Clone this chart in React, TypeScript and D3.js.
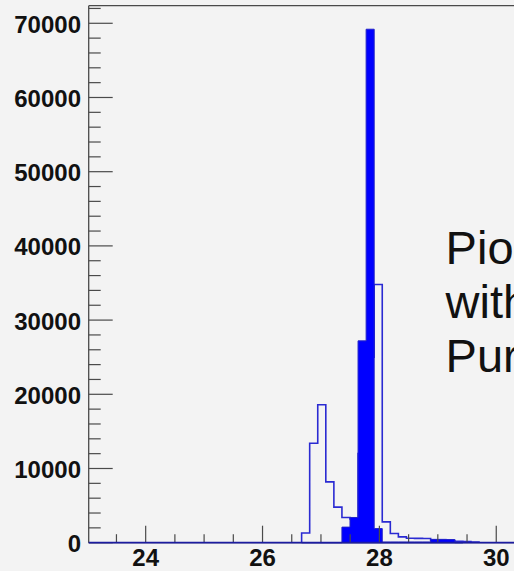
import React from "react";
import * as d3 from "d3";

// Histogram binning
const binLow = 26.669;
const binWidth = 0.138;

// Wide (outline) distribution, counts per bin starting at binLow
const outlineCounts = [
  1300, 13400, 18600, 8200, 4800, 3400, 3200, 12000, 25000, 34800,
  2800, 1250, 780, 600, 580, 560, 350, 330, 300, 200, 150, 100,
];

// Narrow (filled) distribution, counts per bin starting at binLow
const filledCounts = [
  0, 0, 0, 0, 0, 2100, 3400, 27200, 69200, 1900,
  80, 80, 80, 80, 80, 80, 450, 450, 420, 0,
];

// Axis ranges and tick values
const xRange = [23.025, 33];
const yMax = 72370;
const xMajorTicks = [24, 26, 28, 30, 32];
const xMinorTicks = [23.5, 24.5, 25, 25.5, 26.5, 27, 27.5, 28.5, 29, 29.5, 30.5, 31, 31.5, 32.5];
const yMajorTicks = [0, 10000, 20000, 30000, 40000, 50000, 60000, 70000];
const yMinorTicks = [
  2000, 4000, 6000, 8000, 12000, 14000, 16000, 18000, 22000, 24000, 26000, 28000,
  32000, 34000, 36000, 38000, 42000, 44000, 46000, 48000, 52000, 54000, 56000, 58000,
  62000, 64000, 66000, 68000, 72000,
];
const legendLines = ["Pions", "with", "Purity"];

const W = 514;
const H = 571;
const left = 88.7;
const top = 5.7;
const bottom = 542.7;
const pxPerUnit = 58.43;

export default function App() {
  const x = d3
    .scaleLinear()
    .domain(xRange)
    .range([left, left + (xRange[1] - xRange[0]) * pxPerUnit]);
  const y = d3.scaleLinear().domain([0, yMax]).range([bottom, top]);

  const stepPoints = (counts: number[]) => {
    const pts: [number, number][] = [[binLow, 0]];
    counts.forEach((c, i) => {
      pts.push([binLow + i * binWidth, c]);
      pts.push([binLow + (i + 1) * binWidth, c]);
    });
    pts.push([binLow + counts.length * binWidth, 0]);
    return pts;
  };
  const line = d3
    .line<[number, number]>()
    .x((d) => x(d[0]))
    .y((d) => y(d[1]));

  const axisColor = "#4a4a4a";
  const font = "'Liberation Sans', Arial, Helvetica, sans-serif";

  return (
    <svg
      width={W}
      height={H}
      style={{ position: "absolute", left: 0, top: 0, display: "block" }}
    >
      <rect x={0} y={0} width={W} height={H} fill="#f3f3f3" />

      {/* outline histogram */}
      <path
        d={line(stepPoints(outlineCounts)) || ""}
        fill="none"
        stroke="#2a2ad2"
        strokeWidth={1.6}
      />

      {/* filled histogram */}
      <path
        d={(line(stepPoints(filledCounts)) || "") + "Z"}
        fill="#0000ff"
        stroke="#2222c8"
        strokeWidth={1}
      />

      {/* frame top */}
      <line x1={left} x2={W} y1={top} y2={top} stroke={axisColor} strokeWidth={1.3} />

      {/* y axis */}
      <line x1={left} x2={left} y1={top} y2={bottom} stroke={axisColor} strokeWidth={1.3} />
      {yMajorTicks.map((t) => (
        <line key={"ym" + t} x1={left} x2={left + 24} y1={y(t)} y2={y(t)} stroke={axisColor} strokeWidth={1.2} />
      ))}
      {yMinorTicks.map((t) => (
        <line key={"yn" + t} x1={left} x2={left + 12} y1={y(t)} y2={y(t)} stroke={axisColor} strokeWidth={1.2} />
      ))}
      {yMajorTicks.map((t) => (
        <text
          key={"yl" + t}
          x={81}
          y={y(t) + 9.6}
          textAnchor="end"
          fontFamily={font}
          fontWeight="bold"
          fontSize={24}
          fill="#111"
        >
          {t}
        </text>
      ))}

      {/* x axis */}
      {xMajorTicks.map((t) => (
        <line key={"xm" + t} x1={x(t)} x2={x(t)} y1={bottom} y2={bottom - 17} stroke={axisColor} strokeWidth={1.2} />
      ))}
      {xMinorTicks.map((t) => (
        <line key={"xn" + t} x1={x(t)} x2={x(t)} y1={bottom} y2={bottom - 8.5} stroke={axisColor} strokeWidth={1.2} />
      ))}
      {xMajorTicks.map((t) => (
        <text
          key={"xl" + t}
          x={x(t)}
          y={565.7}
          textAnchor="middle"
          fontFamily={font}
          fontWeight="bold"
          fontSize={24}
          fill="#111"
        >
          {t}
        </text>
      ))}
      <line x1={left} x2={W} y1={bottom} y2={bottom} stroke={axisColor} strokeWidth={1.3} />
      {/* histogram baseline at zero */}
      <line x1={left} x2={W} y1={bottom} y2={bottom} stroke="#1c1ca0" strokeWidth={1.8} />

      {/* legend text */}
      {legendLines.map((s, i) => (
        <text
          key={s}
          x={445.6}
          y={264 + i * 54}
          fontFamily={font}
          fontSize={47}
          fill="#111"
        >
          {s}
        </text>
      ))}
    </svg>
  );
}
